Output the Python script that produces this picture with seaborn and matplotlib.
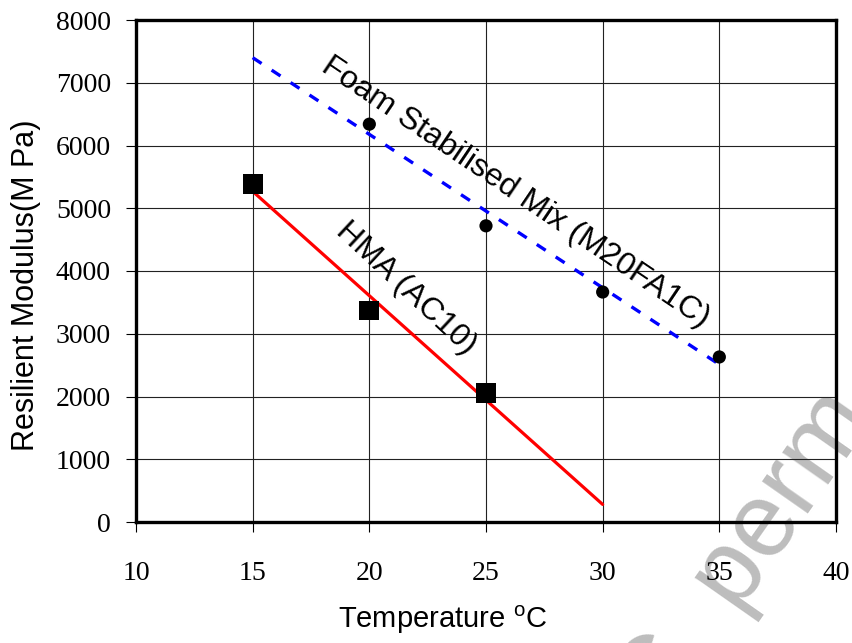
import matplotlib
matplotlib.use("Agg")
import matplotlib.pyplot as plt
import seaborn as sns
import pandas as pd

# ---- data ----
hma_temp = [15, 20, 25]
hma_modulus = [5380, 3370, 2060]
hma_trend_temp = [15, 30]
hma_trend_modulus = [5270, 280]

foam_temp = [20, 25, 30, 35]
foam_modulus = [6340, 4720, 3665, 2630]
foam_trend_temp = [15, 35]
foam_trend_modulus = [7400, 2510]

x_ticks = [10, 15, 20, 25, 30, 35, 40]
y_ticks = [0, 1000, 2000, 3000, 4000, 5000, 6000, 7000, 8000]

hma_label = "HMA (AC10)"
foam_label = "Foam Stabilised Mix (M20FA1C)"
hma_label_pos = (21.55, 3730)
foam_label_pos = (26.25, 5250)

# ---- style ----
sns.set_theme(style="white")
plt.rcParams["font.family"] = ["Liberation Sans", "DejaVu Sans"]
plt.rcParams["mathtext.fontset"] = "custom"
plt.rcParams["mathtext.rm"] = "Liberation Sans"

fig = plt.figure(figsize=(8.53, 6.43), dpi=100)
fig.patch.set_facecolor("white")
ax = fig.add_axes([136 / 853, 1 - 522 / 643, 700 / 853, 502 / 643])
ax.set_facecolor("none")

hma_df = pd.DataFrame({"t": hma_temp, "m": hma_modulus})
hma_tr = pd.DataFrame({"t": hma_trend_temp, "m": hma_trend_modulus})
foam_df = pd.DataFrame({"t": foam_temp, "m": foam_modulus})
foam_tr = pd.DataFrame({"t": foam_trend_temp, "m": foam_trend_modulus})

sns.lineplot(data=hma_tr, x="t", y="m", ax=ax, color="#ff0000", lw=2.3, zorder=3)
sns.lineplot(data=foam_tr, x="t", y="m", ax=ax, color="#0000ff", lw=2.4,
             linestyle=(0, (3.2, 3.6)), zorder=3)
sns.scatterplot(data=hma_df, x="t", y="m", ax=ax, marker="s", s=205,
                color="black", edgecolor="none", zorder=4)
sns.scatterplot(data=foam_df, x="t", y="m", ax=ax, marker="o", s=90,
                color="black", edgecolor="none", zorder=4)

ax.set_xlim(10, 40)
ax.set_ylim(0, 8000)
ax.set_xticks(x_ticks)
ax.set_yticks(y_ticks)
ax.grid(True, color="#222222", lw=0.8)
ax.set_axisbelow(True)

for sp in ax.spines.values():
    sp.set_visible(True)
    sp.set_color("black")
    sp.set_linewidth(2.4)

ax.tick_params(axis="both", which="major", direction="out", length=7,
               width=0.8, color="black", left=True, bottom=True)
ax.tick_params(axis="x", pad=21)
ax.tick_params(axis="y", pad=11)
for lbl in ax.get_xticklabels() + ax.get_yticklabels():
    lbl.set_fontfamily("Liberation Serif")
    lbl.set_fontsize(20)
    lbl.set_color("black")

ax.set_xlabel(r"Temperature $^{\mathrm{o}}$C", fontsize=21, color="black")
ax.set_ylabel("Resilient Modulus(M Pa)", fontsize=22, color="black")
ax.xaxis.set_label_coords((443 - 136) / 700, -(620 - 522) / 502)
ax.yaxis.set_label_coords(-(136 - 26) / 700, (522 - 285) / 502)
ax.xaxis.label.set_va("center")
ax.yaxis.label.set_va("center")

ax.text(*hma_label_pos, hma_label, rotation=-43, rotation_mode="anchor",
        ha="center", va="center", fontsize=23, color="black", zorder=5)
ax.text(*foam_label_pos, foam_label, rotation=-34, rotation_mode="anchor",
        ha="center", va="center", fontsize=23, color="black", zorder=5)

# faint watermark fragment (cut by the image edge, as in the reference)
fig.text(660 / 853, 1 - 725 / 643, "C  perm", rotation=55, rotation_mode="anchor",
         ha="left", va="baseline", fontsize=76, color="#bdbdbd", zorder=-1)

fig.savefig("out.png", dpi=100, facecolor="white")
